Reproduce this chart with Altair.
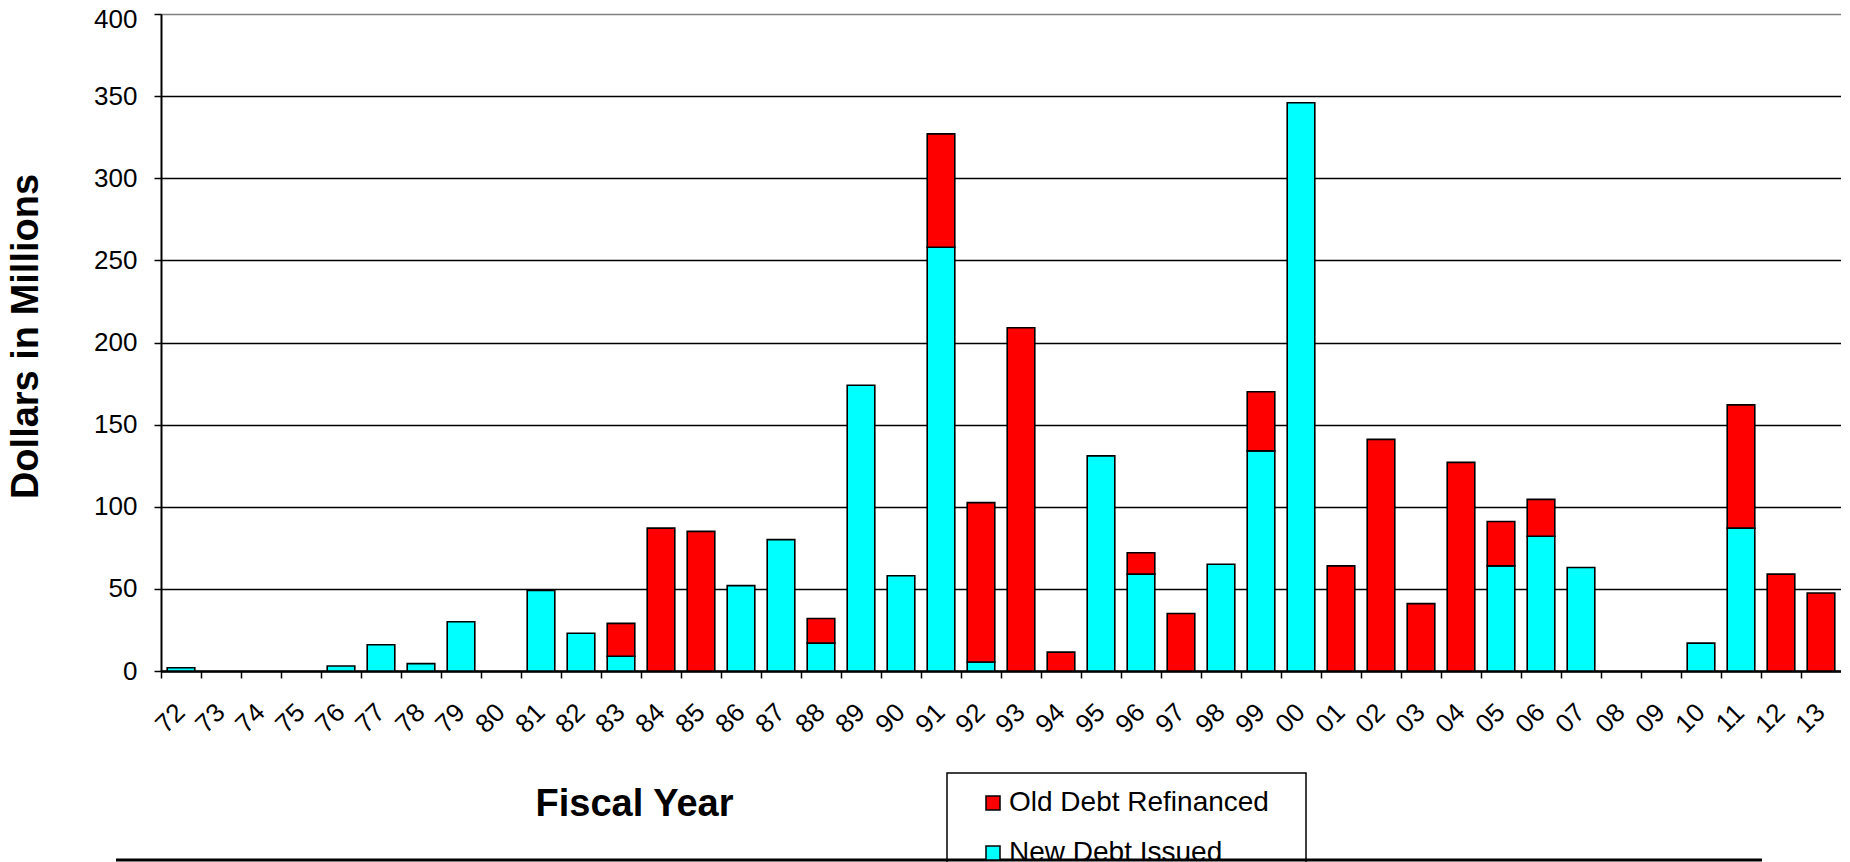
import altair as alt
import pandas as pd

# ---- data ----
years = ['72', '73', '74', '75', '76', '77', '78', '79', '80', '81', '82', '83',
         '84', '85', '86', '87', '88', '89', '90', '91', '92', '93', '94', '95',
         '96', '97', '98', '99', '00', '01', '02', '03', '04', '05', '06', '07',
         '08', '09', '10', '11', '12', '13']
new_debt = [2, 0, 0, 0, 3, 16, 4.5, 30, 0, 49, 23, 9,
            0, 0, 52, 80, 17, 174, 58, 258, 5.5, 0, 0, 131,
            59, 0, 65, 134, 346, 0, 0, 0, 0, 64, 82, 63,
            0, 0, 17, 87, 0, 0]
old_debt = [0, 0, 0, 0, 0, 0, 0, 0, 0, 0, 0, 20,
            87, 85, 0, 0, 15, 0, 0, 69, 97, 209, 11.5, 0,
            13, 35, 0, 36, 0, 64, 141, 41, 127, 27, 22.5, 0,
            0, 0, 0, 75, 59, 47.5]
series_names = ["Old Debt Refinanced", "New Debt Issued"]
series_colors = ["#FF0000", "#00FFFF"]
y_ticks = [0, 50, 100, 150, 200, 250, 300, 350, 400]

rows = []
for yr, n, o in zip(years, new_debt, old_debt):
    if n > 0:
        rows.append({"year": yr, "series": "New Debt Issued", "value": n, "ord": 0})
    if o > 0:
        rows.append({"year": yr, "series": "Old Debt Refinanced", "value": o, "ord": 1})
df = pd.DataFrame(rows)

FONT = "Liberation Sans, Arial, sans-serif"

bars = alt.Chart(df).mark_bar(stroke="black", strokeWidth=1.6, opacity=1).encode(
    x=alt.X(
        "year:N",
        sort=years,
        scale=alt.Scale(domain=years, paddingInner=0.31, paddingOuter=0.155),
        axis=alt.Axis(
            title="Fiscal Year",
            labelAngle=315,
            labelAlign="center",
            labelBaseline="middle",
            labelFontSize=26,
            labelFont=FONT,
            labelColor="black",
            labelPadding=40,
            labelOverlap=False,
            tickSize=7,
            tickOffset=-20,
            labelOffset=9,
            tickColor="black",
            tickWidth=1.5,
            domainColor="black",
            domainWidth=2.5,
            grid=False,
            titleFont=FONT,
            titleFontSize=38,
            titleFontWeight="bold",
            titleColor="black",
            titleX=473,
            titleY=144,
            titleAlign="center",
            titleBaseline="alphabetic",
        ),
    ),
    y=alt.Y(
        "value:Q",
        stack="zero",
        scale=alt.Scale(domain=[0, 400], nice=False),
        axis=alt.Axis(
            title="Dollars in Millions",
            values=y_ticks,
            labelFontSize=26,
            labelFont=FONT,
            labelColor="black",
            labelPadding=17,
            labelOverlap=False,
            labelOffset={"condition": {"test": "datum.value === 400", "value": 5}, "value": 0},
            tickSize=7,
            tickColor="black",
            tickWidth=1.5,
            domainColor="black",
            domainWidth=2,
            grid=True,
            gridColor={"condition": {"test": "datum.value === 400", "value": "#808080"}, "value": "black"},
            gridWidth=1.5,
            gridOpacity=1,
            titleFont=FONT,
            titleFontSize=38,
            titleFontWeight="bold",
            titleColor="black",
            titleAngle=270,
            titleX=-135,
            titleY=322,
            titleAlign="center",
            titleBaseline="middle",
        ),
    ),
    color=alt.Color(
        "series:N",
        scale=alt.Scale(domain=series_names, range=series_colors),
        legend=alt.Legend(
            title=None,
            orient="none",
            legendX=818,
            legendY=775,
            padding=0,
            symbolType="square",
            symbolSize=196,
            symbolStrokeColor="black",
            symbolStrokeWidth=1.5,
            symbolOpacity=1,
            labelFont=FONT,
            labelFontSize=28,
            labelColor="black",
            labelOffset=2,
            labelLimit=500,
            rowPadding=22,
        ),
    ),
    order=alt.Order("ord:Q", sort="ascending"),
)

one = pd.DataFrame({"k": [0]})
legend_box = alt.Chart(one).mark_rect(fill="white", stroke="black", strokeWidth=1.5).encode(
    x=alt.value(786), x2=alt.value(1145), y=alt.value(759), y2=alt.value(950)
)
bottom_line = alt.Chart(one).mark_rule(color="black", strokeWidth=3).encode(
    x=alt.value(-45), x2=alt.value(1601), y=alt.value(846)
)

chart = alt.layer(bars, legend_box, bottom_line).properties(
    width=1680,
    height=657,
    padding={"left": 153, "top": 6, "right": 0, "bottom": 209},
    autosize=alt.AutoSizeParams(type="none"),
    background="white",
).configure_view(stroke="#808080", strokeWidth=1.5).configure(font=FONT)

chart.save("out.html", embed_options={"renderer": "svg", "actions": False})
